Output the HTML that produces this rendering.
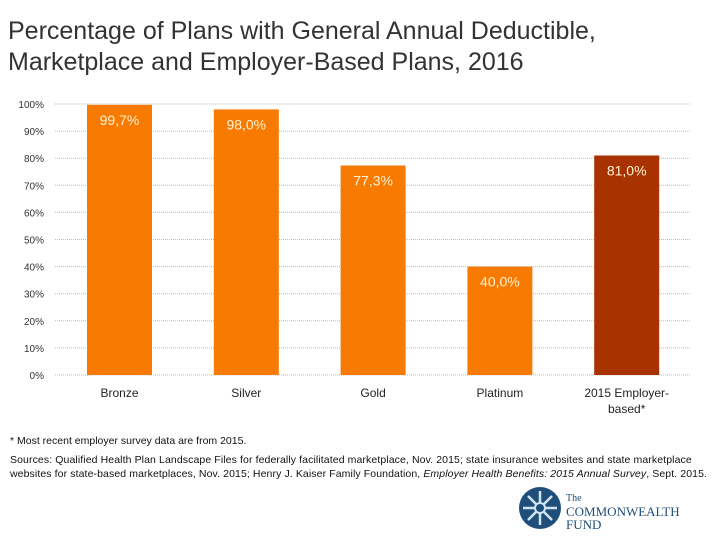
<!DOCTYPE html>
<html><head><meta charset="utf-8"><style>
body{margin:0;width:720px;height:540px;background:#fff;font-family:"Liberation Sans",sans-serif;overflow:hidden;position:relative}
.t{position:absolute;left:8px;top:16px;font-size:25px;line-height:31px;color:#333;letter-spacing:0px}
.n{position:absolute;left:10px;font-size:10.5px;color:#111}
</style></head><body>
<div class="t">Percentage of Plans with General Annual Deductible,<br>Marketplace and Employer-Based Plans, 2016</div>
<svg id="c" width="720" height="540" style="position:absolute;left:0;top:0"></svg>
<div class="n" style="top:435px">* Most recent employer survey data are from 2015.</div>
<div class="n" style="top:453px;line-height:14px;width:710px;letter-spacing:0.1px">Sources: Qualified Health Plan Landscape Files for federally facilitated marketplace, Nov. 2015; state insurance websites and state marketplace websites for state-based marketplaces, Nov. 2015; Henry J. Kaiser Family Foundation, <i>Employer Health Benefits: 2015 Annual Survey</i>, Sept. 2015.</div>
<svg width="44" height="44" style="position:absolute;left:518px;top:486px"><circle cx="22" cy="22" r="21" fill="#1f4e79"/><g stroke="#cfe3f3" stroke-width="2.5"><line x1="22" y1="5" x2="22" y2="39"/><line x1="5" y1="22" x2="39" y2="22"/><line x1="10" y1="10" x2="34" y2="34"/><line x1="34" y1="10" x2="10" y2="34"/></g><circle cx="22" cy="22" r="5" fill="#1f4e79" stroke="#cfe3f3" stroke-width="2"/></svg>
<div style="position:absolute;left:566px;top:490px;font-family:'Liberation Serif',serif;color:#1f4e79;font-size:13px;line-height:13px"><span style="font-size:10px">The</span><br>COMMONWEALTH<br>FUND</div>
<script>
const categories=["Bronze","Silver","Gold","Platinum","2015 Employer-|based*"];
const values=[99.7,98.0,77.3,40.0,81.0];
const labels=["99,7%","98,0%","77,3%","40,0%","81,0%"];
const ticks=[0,10,20,30,40,50,60,70,80,90,100];
const svg=document.getElementById('c');const NS='http://www.w3.org/2000/svg';
const y=v=>375-v*2.71;const x=i=>87+i*126.8;const bw=65;
function mk(t,a){const e=document.createElementNS(NS,t);for(const k in a)e.setAttribute(k,a[k]);svg.appendChild(e);return e;}
ticks.forEach(v=>{
const l=mk('line',{x1:55,x2:690,y1:y(v),y2:y(v),stroke:'#bbb','stroke-dasharray':'1,1'});


const t=mk('text',{x:44,y:y(v)+4,'text-anchor':'end','font-size':'10',fill:'#333'});t.textContent=v+'%';


});
values.forEach((v,i)=>{
const r=mk('rect',{x:x(i),y:y(v),width:bw,height:375-y(v),fill:i==4?'#a83300':'#f97a00'});


const t=mk('text',{x:x(i)+bw/2,y:y(v)+20,'text-anchor':'middle','font-size':'14',fill:'#fff3d6'});t.textContent=labels[i];


categories[i].split('|').forEach((s,j)=>{
const c=mk('text',{x:x(i)+bw/2,y:397+j*16,'text-anchor':'middle','font-size':'12',fill:'#222'});c.textContent=s;


});
});
</script>
</body></html>
